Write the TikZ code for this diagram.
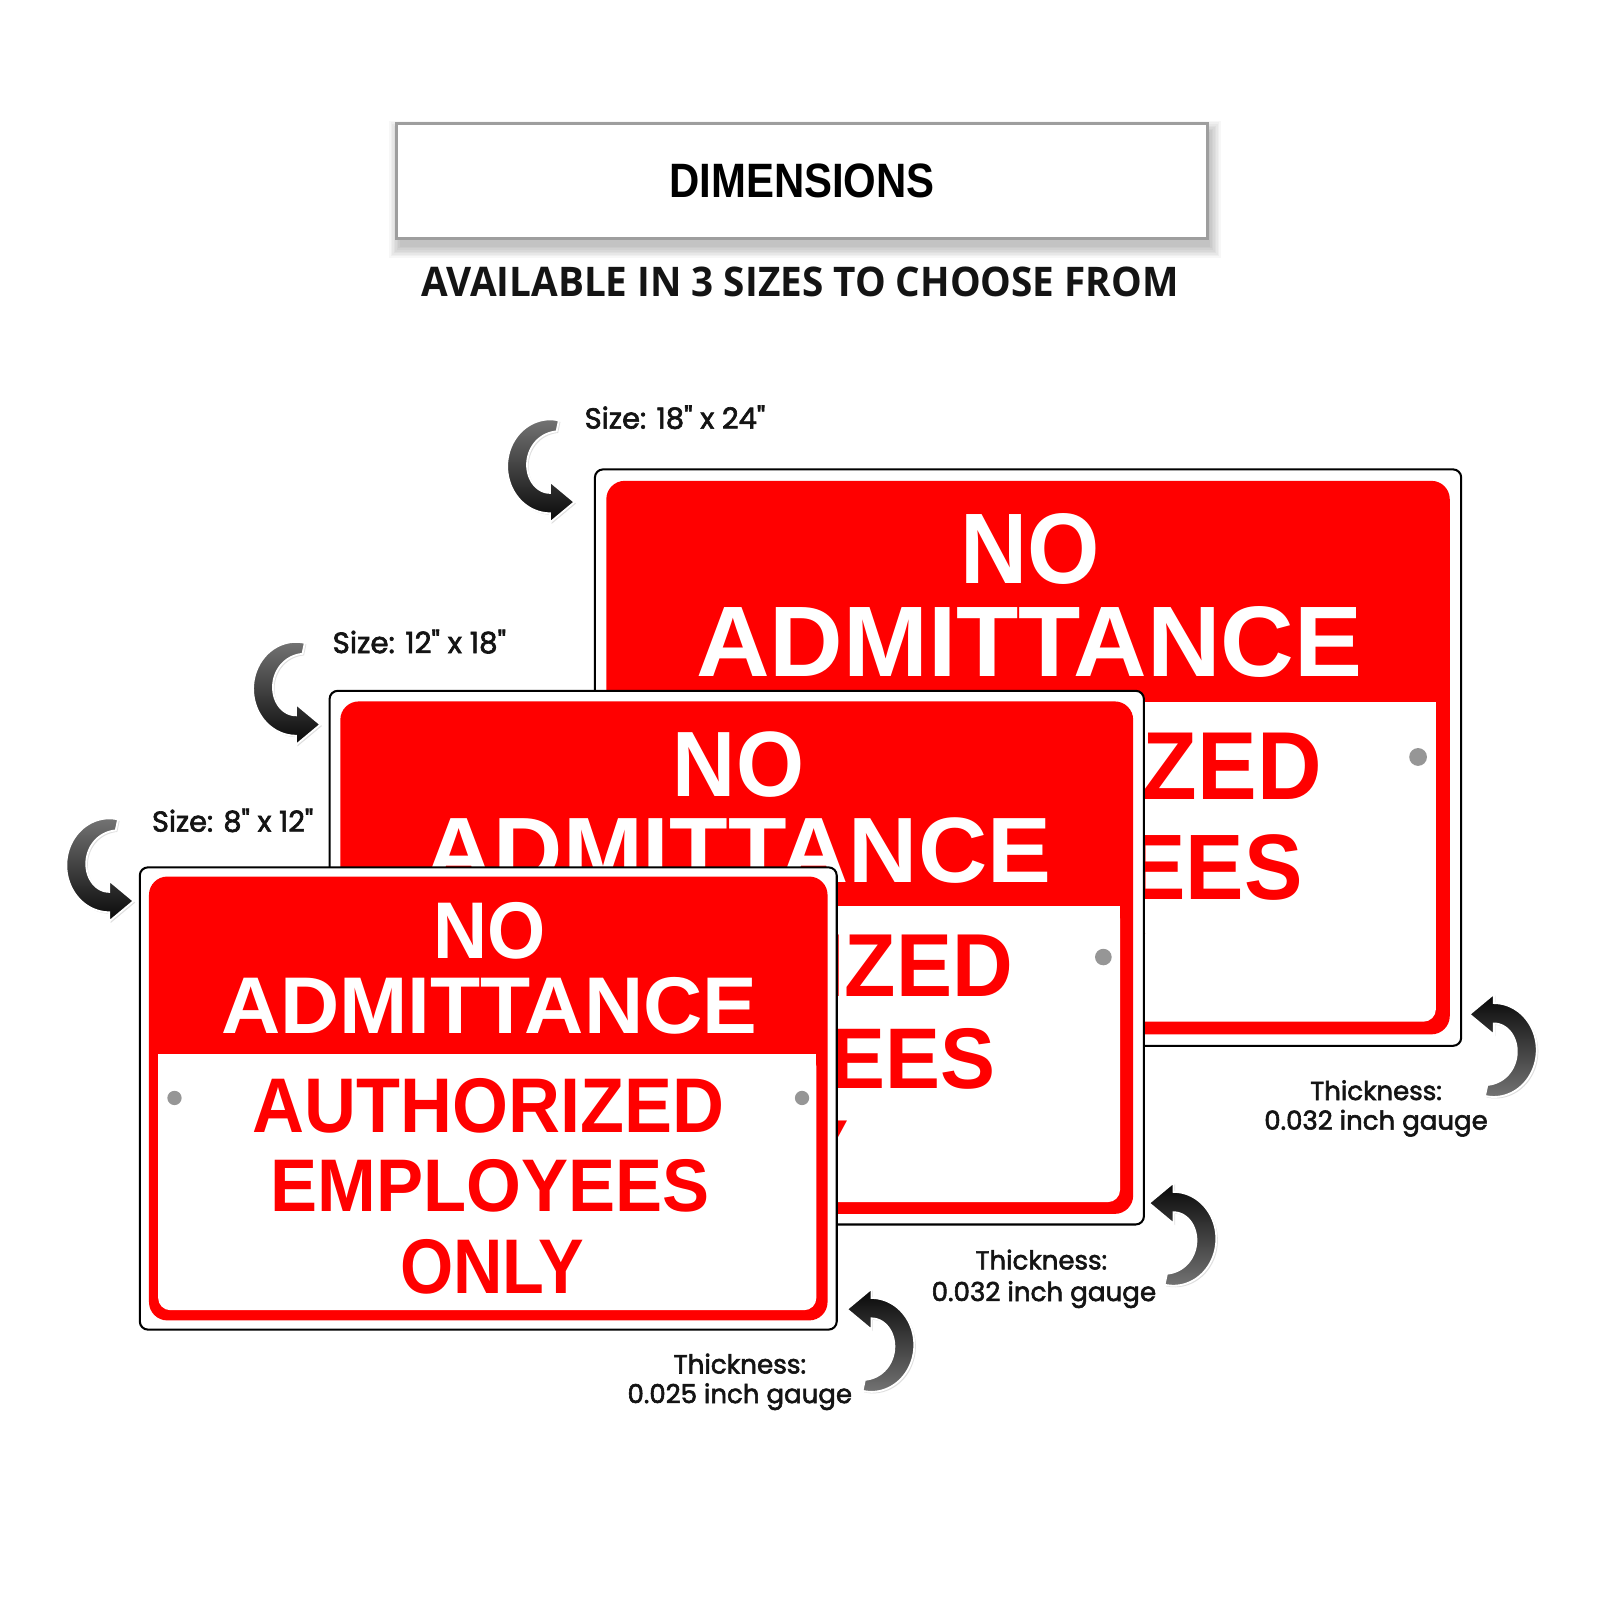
\documentclass[tikz,border=0pt]{standalone}
\usepackage{fontspec}
\usepackage{graphicx}
\usetikzlibrary{shadows}
\newfontfamily\signfont{Liberation Sans}
\newfontfamily\subfont{Open Sans}
\newfontfamily\lblfont{Poppins}[FakeBold=2.2]
\definecolor{signred}{RGB}{255,0,0}
\definecolor{holegray}{RGB}{150,150,150}
\definecolor{boxgray}{RGB}{158,158,158}
\definecolor{ink}{RGB}{20,20,20}
\tikzset{
  headbox/.style={draw=boxgray, line width=3, fill=white, minimum width=794pt, minimum height=113pt, inner sep=0},
  signtxt/.style={inner sep=0, outer sep=0},
  lbl/.style={inner sep=0, outer sep=0, anchor=base west, text=ink},
  curl/.style={draw=white, line width=1.8, drop shadow={opacity=0.25, shadow xshift=1.5pt, shadow yshift=-1.5pt}},
  curlsize/.style={curl, top color=black!55, bottom color=black!97},
  curlthick/.style={curl, top color=black!97, bottom color=black!55}
}
% sign: #1 name, #2 x, #3 y, #4 xscale, #5 yscale
\newcommand\drawsign[5]{%
\begin{scope}[shift={(#2,#3)}, xscale=#4, yscale=#5, transform shape]
  \path[draw=black, line width=2, fill=white, rounded corners=8] (0,0) rectangle (683,453);
  \path[fill=signred, rounded corners=18] (9,9) rectangle (674,444);
  \path[fill=white, rounded corners=12] (18,183) rectangle (663,434);
  \path[fill=white] (18,183) rectangle (663,200);
  \fill[holegray] (34,226) circle[radius=7pt];
  \fill[holegray] (649,226) circle[radius=7pt];
  \node[signtxt, text=white] (#1-no) at (343,62.5) {\resizebox{110pt}{55pt}{\signfont\bfseries NO}};
  \node[signtxt, text=white] (#1-adm) at (342.5,135.5) {\resizebox{525pt}{55pt}{\signfont\bfseries ADMITTANCE}};
  \node[signtxt, text=signred] (#1-auth) at (342,233.5) {\resizebox{462pt}{53pt}{\signfont\bfseries AUTHORIZED}};
  \node[signtxt, text=signred] (#1-emp) at (343,312.5) {\resizebox{430pt}{51pt}{\signfont\bfseries EMPLOYEES}};
  \node[signtxt, text=signred] (#1-only) at (345,391.5) {\resizebox{180pt}{53pt}{\signfont\bfseries ONLY}};
\end{scope}}
% curled arrow: #1 x, #2 y, #3 rotation, #4 style
\newcommand\curl[4]{%
\begin{scope}[shift={(#1,#2)}, rotate=#3]
  \path[#4] plot[domain=-78:-270, samples=60, variable=\t] ({42*cos(\t)},{46*sin(\t)})
    -- (0,55) -- (24,35) -- (0,15) -- (0,26)
    -- plot[domain=-270:-78, samples=60, variable=\t] ({(42-20+9*pow((\t+270)/192,4))*cos(\t)},{(46-20+9*pow((\t+270)/192,4))*sin(\t)})
    -- cycle;
\end{scope}}
\begin{document}
\begin{tikzpicture}[x=1pt, y=-1pt]
\useasboundingbox (0,0) rectangle (1568,1568);
\fill[white] (0,0) rectangle (1568,1568);
% header shadow
\foreach \i in {0,1.5,...,10.5} {
  \fill[black, opacity=0.03] ({389+3-\i},{121+8-\i}) rectangle ({1183+3+\i},{234+8+\i});
}
\node[headbox] (head) at (786,177.5) {\resizebox{260pt}{33pt}{\signfont\bfseries DIMENSIONS}};
\node[signtxt, text=ink] (sub) at (784,276.5) {\resizebox{742pt}{29pt}{\subfont\bfseries AVAILABLE IN 3 SIZES TO CHOOSE FROM}};

% signs
\drawsign{large}{583}{460}{1.243}{1.247}
\drawsign{mid}{323}{677}{1.1684}{1.1545}
\drawsign{small}{137}{850}{1}{1}

% arrows
\curl{539}{457}{0}{curlsize}
\curl{290}{675}{0}{curlsize}
\curl{107}{848}{0}{curlsize}
\curl{1464}{1029}{180}{curlthick}
\curl{1150}{1214}{180}{curlthick}
\curl{854}{1318}{180}{curlthick}

% labels
\node[lbl] (s1) at (573,420) {\resizebox{177pt}{!}{\lblfont Size: 18" x 24"}};
\node[lbl] (s2) at (326,640) {\resizebox{170pt}{!}{\lblfont Size: 12" x 18"}};
\node[lbl] (s3) at (149,815) {\resizebox{158pt}{!}{\lblfont Size: 8" x 12"}};
\node[lbl] (t1a) at (1284,1078) {\resizebox{129pt}{!}{\lblfont Thickness:}};
\node[lbl] (t1b) at (1239,1107) {\resizebox{219pt}{!}{\lblfont 0.032 inch gauge}};
\node[lbl] (t2a) at (956,1244) {\resizebox{129pt}{!}{\lblfont Thickness:}};
\node[lbl] (t2b) at (913,1275) {\resizebox{220pt}{!}{\lblfont 0.032 inch gauge}};
\node[lbl] (t3a) at (660,1346) {\resizebox{130pt}{!}{\lblfont Thickness:}};
\node[lbl] (t3b) at (615,1375) {\resizebox{220pt}{!}{\lblfont 0.025 inch gauge}};
\end{tikzpicture}
\end{document}
